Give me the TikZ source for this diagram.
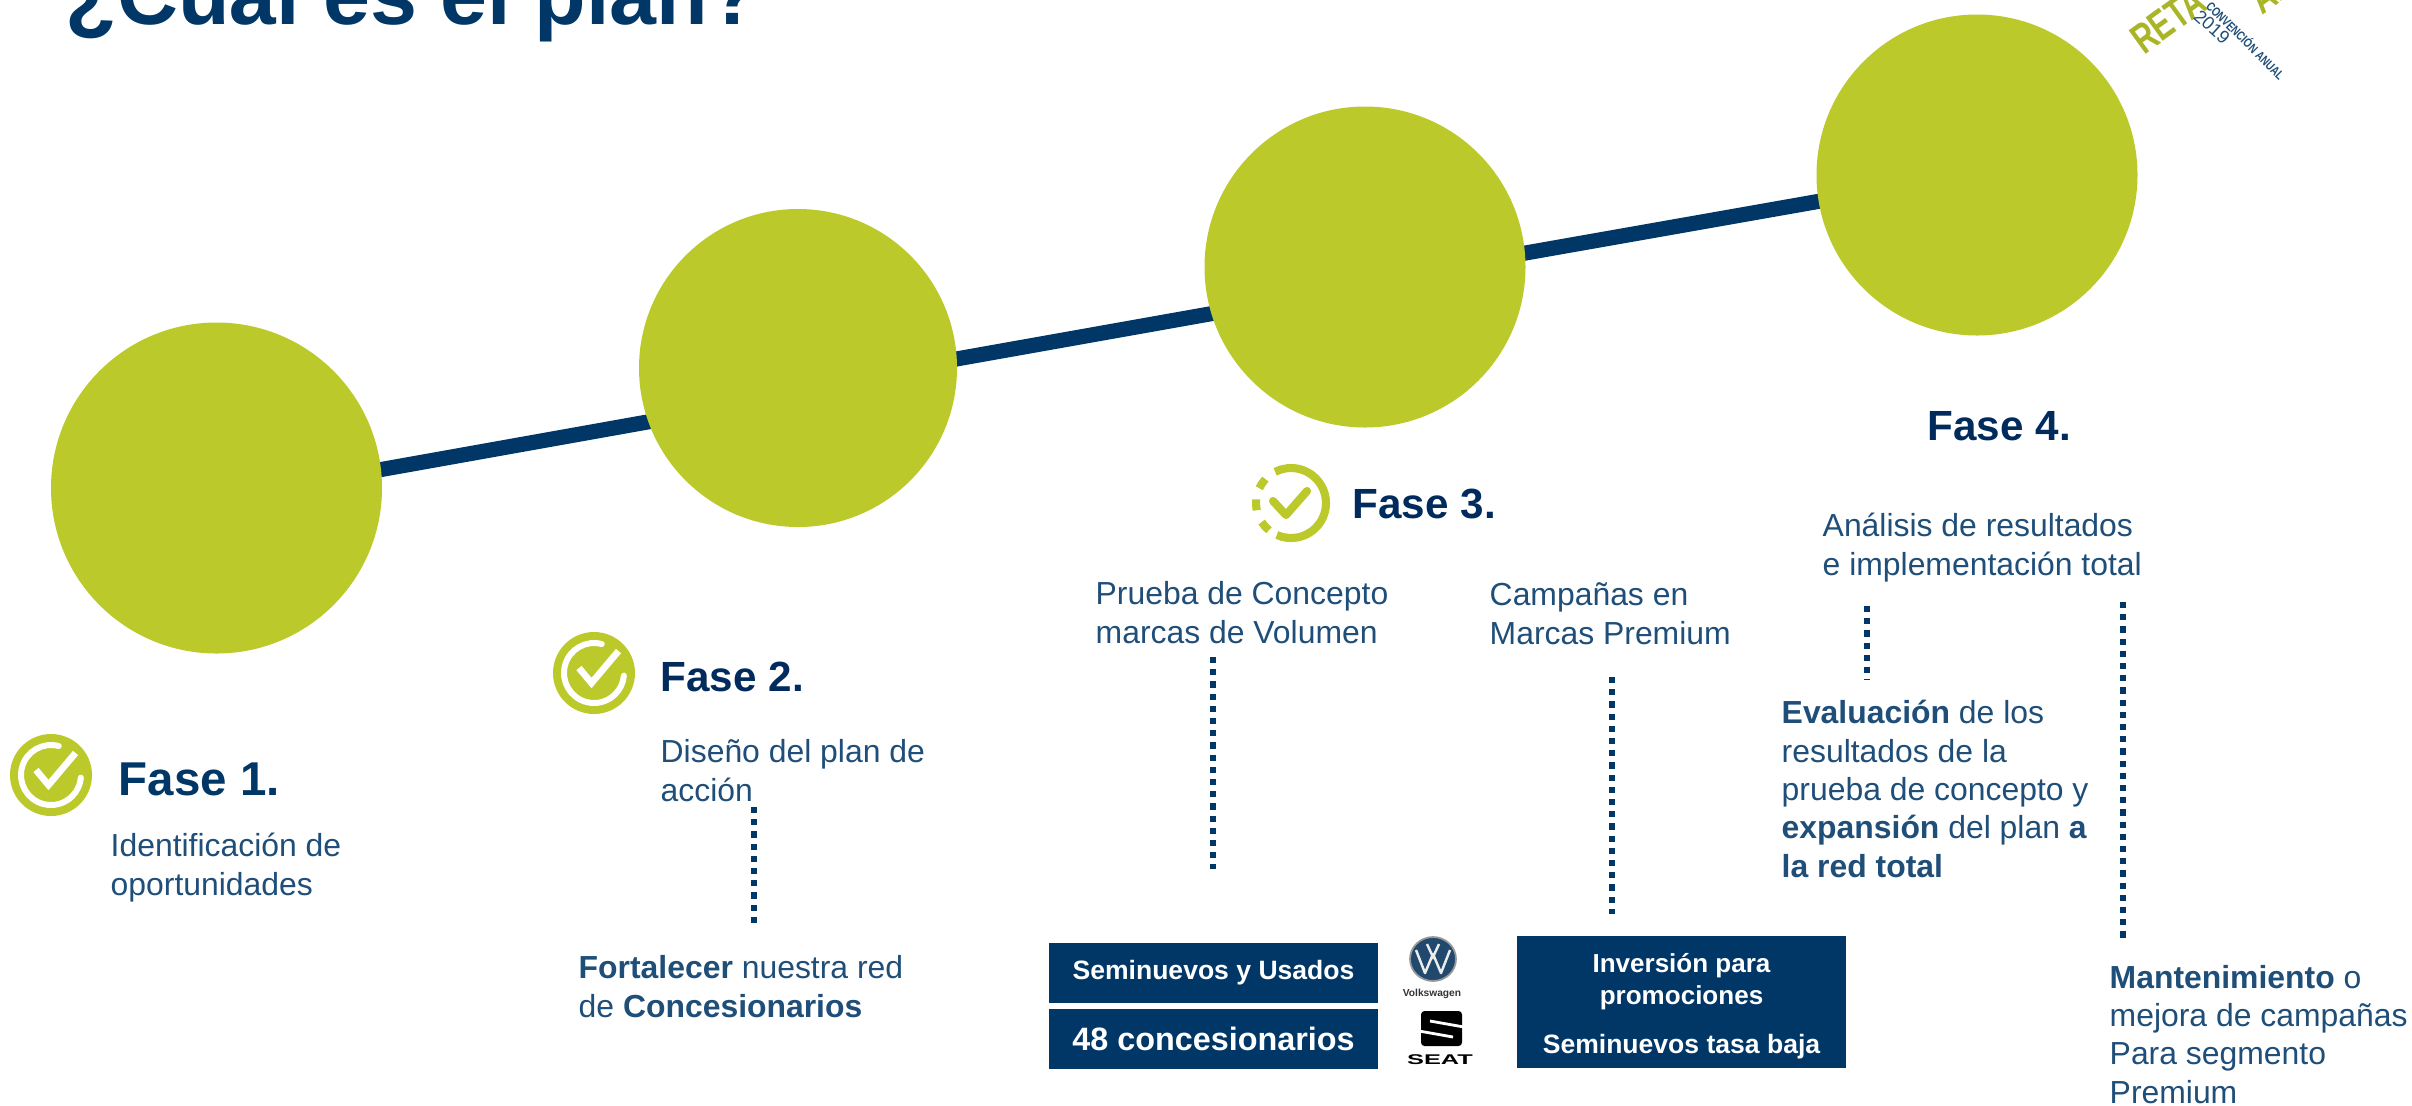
\documentclass[tikz,border=0pt]{standalone}
\usepackage{fontspec}
\setmainfont{Liberation Sans}
\usetikzlibrary{shapes.geometric}

\definecolor{navyplan}{HTML}{003767}
\definecolor{tagplan}{HTML}{002B5C}
\definecolor{textplan}{HTML}{1F4E79}
\definecolor{greenplan}{HTML}{BCC92B}

\tikzset{
  fase/.style={circle, fill=greenplan, inner sep=0pt},
  tag/.style={anchor=base west, inner sep=0pt, text=tagplan, font=\fontsize{12}{12}\selectfont\bfseries},
  info/.style={anchor=base west, inner sep=0pt, text=textplan, align=left, font=\fontsize{9.07}{10.9}\selectfont},
  block/.style={fill=navyplan, text=white, inner sep=0pt, align=center},
  dots/.style={navyplan, line width=1.8pt, dash pattern=on 1.75pt off 1.72pt},
  badge/.style={circle, fill=greenplan, minimum size=82*0.01cm, inner sep=0pt},
  logotext/.style={inner sep=0pt, text=greenplan!90!black, font=\fontsize{12}{12}\selectfont\bfseries, rotate=36, xscale=0.72, transform shape},
}

\begin{document}
\begin{tikzpicture}[x=0.01cm, y=-0.01cm]

  %% Background
  \useasboundingbox (0,0) rectangle (2412,1105);

  % Title
  \node[anchor=base west, inner sep=0pt, text=navyplan, font=\fontsize{24}{24}\selectfont\bfseries] (title) at (65,24) {¿Cuál es el plan?};

  % Line and circles
  \coordinate (s1) at (300,484);
  \coordinate (s2) at (700,412.6);
  \coordinate (s3) at (900,369);
  \coordinate (s4) at (1260,305);
  \coordinate (s5) at (1480,261);
  \coordinate (s6) at (1900,187);
  \draw[navyplan, line width=4.3pt] (s1) -- (s2);
  \draw[navyplan, line width=4.3pt] (s3) -- (s4);
  \draw[navyplan, line width=4.3pt] (s5) -- (s6);
  \node[fase, minimum size=331*0.01cm] (f1) at (216.5,488) {};
  \node[fase, minimum size=318*0.01cm] (f2) at (798,368) {};
  \node[fase, minimum size=321*0.01cm] (f3) at (1365,267) {};
  \node[fase, minimum size=321*0.01cm] (f4) at (1977,175) {};

  % Logo
  \node[logotext] (reta) at (2168,20) {RETA};
  \node[logotext] (al) at (2270,-8) {AL};
  \node[rotate=-42, text=textplan, font=\fontsize{5.2}{6}\selectfont, inner sep=0pt] (year) at (2212,27) {2019};
  \node[rotate=-45, xscale=0.78, transform shape, text=textplan, font=\fontsize{3.6}{4}\selectfont\bfseries, inner sep=0pt] (anual) at (2246,40) {CONVENCIÓN ANUAL};

  % Fase 1
  \node[badge] (b1) at (51,775) {};
  \draw[white, line width=1.7pt, line cap=round] (b1.center) ++(-75:30) arc (-75:-355:30);
  \draw[white, line width=1.9pt] (b1.center) ++(-15,-5) -- ++(12.5,15) -- ++(27,-32);
  \node[tag, text=navyplan, font=\fontsize{13.5}{14}\selectfont\bfseries] (t1) at (118,795) {Fase 1.};
  \node[info] (i1) at (110,895) {Identificación de\\oportunidades};

  % Fase 2
  \node[badge] (b2) at (594,673) {};
  \draw[white, line width=1.7pt, line cap=round] (b2.center) ++(-75:30) arc (-75:-355:30);
  \draw[white, line width=1.9pt] (b2.center) ++(-15,-5) -- ++(12.5,15) -- ++(27,-32);
  \node[tag] (t2) at (660,691) {Fase 2.};
  \node[info] (i2) at (660,801) {Diseño del plan de\\acción};
  \node[info] (o2) at (578,1017) {\textbf{Fortalecer} nuestra red\\de \textbf{Concesionarios}};
  \coordinate (d2a) at (754,807);
  \coordinate (d2b) at (754,923);
  \draw[dots] (d2a) -- (d2b);

  % Fase 3
  \coordinate (b3) at (1291,503);
  \draw[greenplan, line width=2.3pt, line cap=round] (b3) ++(97:35) arc (97:-97:35);
  \foreach \ang in {-108,-146,-183,-222,-255}
    \draw[greenplan, line width=2.3pt] (b3) ++(\ang-9:35) arc (\ang-9:\ang+9:35);
  \draw[greenplan, line width=2.3pt, line cap=round, line join=round] (b3) ++(-18,-2) -- ++(13,14) -- ++(21,-24);
  \node[tag] (t3) at (1352,518) {Fase 3.};
  \node[info] (i3a) at (1095,643) {Prueba de Concepto\\marcas de Volumen};
  \node[info] (i3b) at (1489,644) {Campañas en\\Marcas Premium};
  \coordinate (d3a) at (1213,657);
  \coordinate (d3b) at (1213,869);
  \coordinate (d3c) at (1612,677);
  \coordinate (d3d) at (1612,914);
  \draw[dots] (d3a) -- (d3b);
  \draw[dots] (d3c) -- (d3d);

  % Cuadros de abajo
  \node[block, minimum width=329*0.01cm, minimum height=60*0.01cm, font=\fontsize{7.55}{9}\selectfont\bfseries] (seminuevos) at (1213.5,973) {Seminuevos y Usados};
  \node[block, minimum width=329*0.01cm, minimum height=60*0.01cm, font=\fontsize{9.2}{11}\selectfont\bfseries] (conces) at (1213.5,1039) {48 concesionarios};
  \node[block, minimum width=329*0.01cm, minimum height=132*0.01cm] (premium) at (1681.5,1002) {};
  \node[text=white, inner sep=0pt, anchor=base, align=center, font=\fontsize{7.4}{8.9}\selectfont\bfseries] (promo) at (1681.5,1004) {Inversión para\\promociones};
  \node[text=white, inner sep=0pt, anchor=base, font=\fontsize{7.55}{9}\selectfont\bfseries] (tasa) at (1681.5,1053) {Seminuevos tasa baja};

  % Marcas
  \node[ellipse, draw=gray!80, line width=0.5pt, fill=navyplan!75!gray, minimum width=46*0.01cm, minimum height=44*0.01cm, inner sep=0pt] (vw) at (1433,959) {};
  \draw[gray!15, line width=0.7pt, line join=round] (vw.center) ++(-17,-9) -- ++(9,23) -- ++(8,-19) -- ++(8,19) -- ++(9,-23);
  \draw[gray!15, line width=0.7pt] (vw.center) ++(-6,-15) -- ++(6,13) -- ++(6,-13);
  \node[inner sep=0pt, text=black!80, font=\fontsize{2.9}{3}\selectfont\bfseries] (vwname) at (1432,994) {Volkswagen};
  \fill[black, rounded corners=1pt] (1421,1011) rectangle (1462,1046);
  \draw[white, line width=0.8pt] (1430,1021) -- (1464,1027);
  \draw[white, line width=0.8pt] (1419,1031) -- (1453,1037);
  \node[inner sep=0pt, text=black, xscale=1.8, transform shape, font=\fontsize{4}{5}\selectfont\bfseries] (seat) at (1440,1060) {SEAT};

  % Fase 4
  \node[tag] (t4) at (1927,440) {Fase 4.};
  \node[info] (i4) at (1822,575) {Análisis de resultados\\e implementación total};
  \node[info] (e4) at (1781,877) {\textbf{Evaluación} de los\\resultados de la\\prueba de concepto y\\\textbf{expansión} del plan \textbf{a}\\\textbf{la red total}};
  \node[info] (m4) at (2109,1103) {\textbf{Mantenimiento} o\\mejora de campañas\\Para segmento\\Premium};
  \coordinate (d4a) at (1867,606);
  \coordinate (d4b) at (1867,680);
  \coordinate (d4c) at (2123,602);
  \coordinate (d4d) at (2123,940);
  \draw[dots] (d4a) -- (d4b);
  \draw[dots] (d4c) -- (d4d);

\end{tikzpicture}
\end{document}
